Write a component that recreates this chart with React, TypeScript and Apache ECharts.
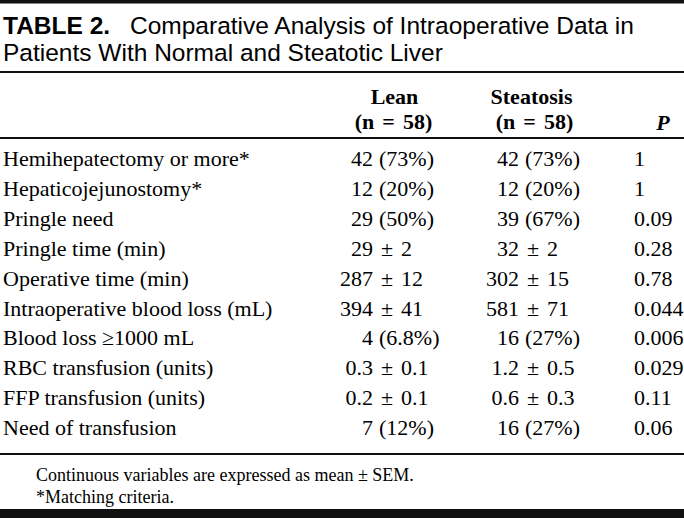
import React, { useEffect, useRef } from "react";
import * as echarts from "echarts";

const titleLabel = "TABLE 2.";
const titleLines = ["Comparative Analysis of Intraoperative Data in", "Patients With Normal and Steatotic Liver"];
const groupNames = ["Lean", "Steatosis"];
const groupSizes = ["(n = 58)", "(n = 58)"];
const pHeader = "P";
const rowLabels = [
  "Hemihepatectomy or more*",
  "Hepaticojejunostomy*",
  "Pringle need",
  "Pringle time (min)",
  "Operative time (min)",
  "Intraoperative blood loss (mL)",
  "Blood loss \u22651000 mL",
  "RBC transfusion (units)",
  "FFP transfusion (units)",
  "Need of transfusion",
];
const leanValues = [
  "42 (73%)",
  "12 (20%)",
  "29 (50%)",
  "29 \u00b1 2",
  "287 \u00b1 12",
  "394 \u00b1 41",
  "4 (6.8%)",
  "0.3 \u00b1 0.1",
  "0.2 \u00b1 0.1",
  "7 (12%)",
];
const steatosisValues = [
  "42 (73%)",
  "12 (20%)",
  "39 (67%)",
  "32 \u00b1 2",
  "302 \u00b1 15",
  "581 \u00b1 71",
  "16 (27%)",
  "1.2 \u00b1 0.5",
  "0.6 \u00b1 0.3",
  "16 (27%)",
];
const pValues = ["1", "1", "0.09", "0.28", "0.78", "0.044", "0.006", "0.029", "0.11", "0.06"];
const footnotes = ["Continuous variables are expressed as mean \u00b1 SEM.", "*Matching criteria."];

const W = 684;
const H = 518;
const SERIF = "'Liberation Serif', 'Times New Roman', serif";
const SANS = "'Liberation Sans', Arial, sans-serif";
const BODY_SIZE = 22;
const WIDE_GAP = 8;
const NORMAL_GAP = 6;

let measureCtx: CanvasRenderingContext2D | null = null;
function measure(text: string, font: string): number {
  if (!measureCtx) measureCtx = document.createElement("canvas").getContext("2d");
  if (!measureCtx) return text.length * 10;
  measureCtx.font = font;
  return measureCtx.measureText(text).width;
}

function txt(text: string, x: number, y: number, font: string, align: string = "left") {
  return {
    type: "text",
    x,
    y,
    silent: true,
    style: { text, font, fill: "#000", textAlign: align, textVerticalAlign: "middle" },
  };
}

function rule(y: number, h: number) {
  return { type: "rect", silent: true, shape: { x: 0, y, width: W, height: h }, style: { fill: "#111" } };
}

function gapBefore(token: string) {
  return token.startsWith("(") ? NORMAL_GAP : WIDE_GAP;
}

// first token ends at anchorX, the others follow
function valueCell(value: string, anchorX: number, y: number) {
  const tokens = value.split(" ");
  const font = `${BODY_SIZE}px ${SERIF}`;
  const out: any[] = [txt(tokens[0], anchorX, y, font, "right")];
  let x = anchorX;
  for (let k = 1; k < tokens.length; k++) {
    x += gapBefore(tokens[k]);
    out.push(txt(tokens[k], x, y, font, "left"));
    x += measure(tokens[k], font);
  }
  return out;
}

// tokens spread with a wider gap, centred on cx
function spreadCentered(value: string, cx: number, y: number, font: string) {
  const tokens = value.split(" ");
  const widths = tokens.map((t) => measure(t, font));
  const total = widths.reduce((a, b) => a + b, 0) + WIDE_GAP * (tokens.length - 1);
  let x = cx - total / 2;
  return tokens.map((t, k) => {
    const el = txt(t, x, y, font, "left");
    x += widths[k] + WIDE_GAP;
    return el;
  });
}

export default function App() {
  const ref = useRef<HTMLDivElement>(null);
  useEffect(() => {
    document.body.style.margin = "0";
    document.body.style.background = "#fff";
    if (!ref.current) return;
    const chart = echarts.init(ref.current, null, { renderer: "svg" });
    const rowTop = 158.5;
    const pitch = 29.9;
    const leanAnchor = 373;
    const steaAnchor = 519;
    const pX = 634;
    const elements: any[] = [];
    elements.push({ type: "rect", silent: true, shape: { x: 0, y: 0, width: W, height: H }, style: { fill: "#fff" } });
    elements.push(rule(0, 3.5));
    elements.push(txt(titleLabel, 3, 25, `bold 24.5px ${SANS}`));
    elements.push(txt(titleLines[0], 130, 25, `24.5px ${SANS}`));
    elements.push(txt(titleLines[1], 3, 52, `24.5px ${SANS}`));
    elements.push(rule(71, 2));
    const hFont = `bold ${BODY_SIZE}px ${SERIF}`;
    elements.push(txt(groupNames[0], 394.5, 96, hFont, "center"));
    elements.push(txt(groupNames[1], 531.5, 96, hFont, "center"));
    elements.push(...spreadCentered(groupSizes[0], 393.5, 121, hFont));
    elements.push(...spreadCentered(groupSizes[1], 534.5, 121, hFont));
    elements.push(txt(pHeader, 663, 122, `italic bold ${BODY_SIZE}px ${SERIF}`, "center"));
    elements.push(rule(137, 2));
    rowLabels.forEach((label, i) => {
      const y = rowTop + pitch * i;
      elements.push(txt(label, 3, y, `${BODY_SIZE}px ${SERIF}`));
      elements.push(...valueCell(leanValues[i], leanAnchor, y));
      elements.push(...valueCell(steatosisValues[i], steaAnchor, y));
      elements.push(txt(pValues[i], pX, y, `${BODY_SIZE}px ${SERIF}`));
    });
    elements.push(rule(453, 2));
    footnotes.forEach((f, i) => {
      elements.push(txt(f, 36, 475 + 22 * i, `18px ${SERIF}`));
    });
    elements.push(rule(509, 9));
    chart.setOption({ animation: false, backgroundColor: "#fff", graphic: { elements } });
    return () => chart.dispose();
  }, []);
  return <div ref={ref} style={{ width: W, height: H }} />;
}
